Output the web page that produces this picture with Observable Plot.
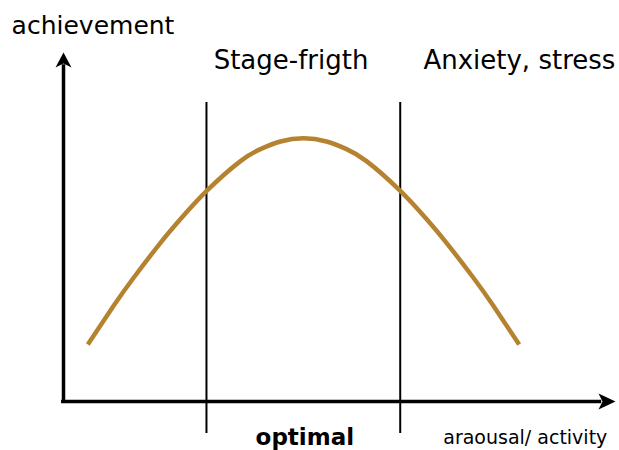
<!DOCTYPE html>
<html>
<head>
<meta charset="utf-8">
<script src="https://cdn.jsdelivr.net/npm/d3@7"></script>
<script src="https://cdn.jsdelivr.net/npm/@observablehq/plot@0.6"></script>
<style>
  html, body { margin: 0; padding: 0; background: #fff; }
  #chart { width: 619px; height: 450px; }
</style>
</head>
<body>
<div id="chart"></div>
<script>
// Curve: arousal (x) vs achievement (y), both on a 0–100 conceptual scale
const arousal     = [4.40, 9.11, 12.74, 17.57, 21.20, 26.03, 32.07, 35.69, 39.31, 43.48,
                     47.64, 51.27, 54.89, 60.92, 65.76, 69.38, 74.22, 77.84, 82.55];
const achievement = [16.33, 27.51, 35.53, 45.47, 52.29, 60.49, 68.88, 72.32, 74.50, 75.42,
                     74.50, 72.32, 68.88, 60.49, 52.29, 45.47, 35.53, 27.51, 16.33];
// Zone boundaries on the arousal axis
const zoneBounds = [25.9, 61.0];
// Texts
const yTitle = "achievement";
const xTitle = "araousal/ activity";
const topLabels = ["Stage-frigth", "Anxiety, stress"];
const zoneLabel = "optimal";

const curve = arousal.map((x, i) => ({x, y: achievement[i]}));

// Filled "stealth" arrow heads as custom symbols (tip at the dot position)
const arrowUp = {
  draw(ctx) {
    ctx.moveTo(0, 0);
    ctx.lineTo(8, 15);
    ctx.lineTo(0, 11);
    ctx.lineTo(-8, 15);
    ctx.closePath();
  }
};
const arrowRight = {
  draw(ctx) {
    ctx.moveTo(0, 0);
    ctx.lineTo(-17, 8);
    ctx.lineTo(-13, 0);
    ctx.lineTo(-17, -8);
    ctx.closePath();
  }
};

const font = "'DejaVu Sans', sans-serif";

const chart = Plot.plot({
  width: 619,
  height: 450,
  marginLeft: 63,
  marginRight: 4,
  marginTop: 52,
  marginBottom: 49,
  style: {background: "#fff", fontFamily: font, overflow: "visible"},
  x: {domain: [0, 100], axis: null},
  y: {domain: [0, 100], axis: null},
  marks: [
    // zone boundaries
    Plot.ruleX(zoneBounds, {x: d => d, y1: -9.2, y2: 85.7, stroke: "#000", strokeWidth: 2}),
    // axes
    Plot.ruleY([0], {x1: -0.35, x2: 97.5, stroke: "#000", strokeWidth: 3.5}),
    Plot.ruleX([0], {y1: -0.5, y2: 96.5, stroke: "#000", strokeWidth: 3.5}),
    Plot.dot([{x: 0, y: 100}], {x: "x", y: "y", symbol: arrowUp, fill: "#000", stroke: "none"}),
    Plot.dot([{x: 100, y: 0}], {x: "x", y: "y", symbol: arrowRight, fill: "#000", stroke: "none"}),
    // curve
    Plot.line(curve, {x: "x", y: "y", curve: "natural", stroke: "#b5832f", strokeWidth: 4.5, strokeLinecap: "butt"}),
    // texts
    Plot.text([yTitle], {x: -9.4, y: 107.7, text: d => d, textAnchor: "start", lineAnchor: "middle", fontSize: 25, fill: "#000"}),
    Plot.text(topLabels, {x: (d, i) => [27.2, 65.2][i], y: 97.8, text: d => d, textAnchor: "start", lineAnchor: "middle", fontSize: 26, fill: "#000"}),
    Plot.text([zoneLabel], {x: 34.8, y: -10.3, text: d => d, textAnchor: "start", lineAnchor: "middle", fontSize: 23, fontWeight: "bold", fill: "#000"}),
    Plot.text([xTitle], {x: 68.8, y: -10.3, text: d => d, textAnchor: "start", lineAnchor: "middle", fontSize: 19, fill: "#000"})
  ]
});
document.getElementById("chart").appendChild(chart);
</script>
</body>
</html>
